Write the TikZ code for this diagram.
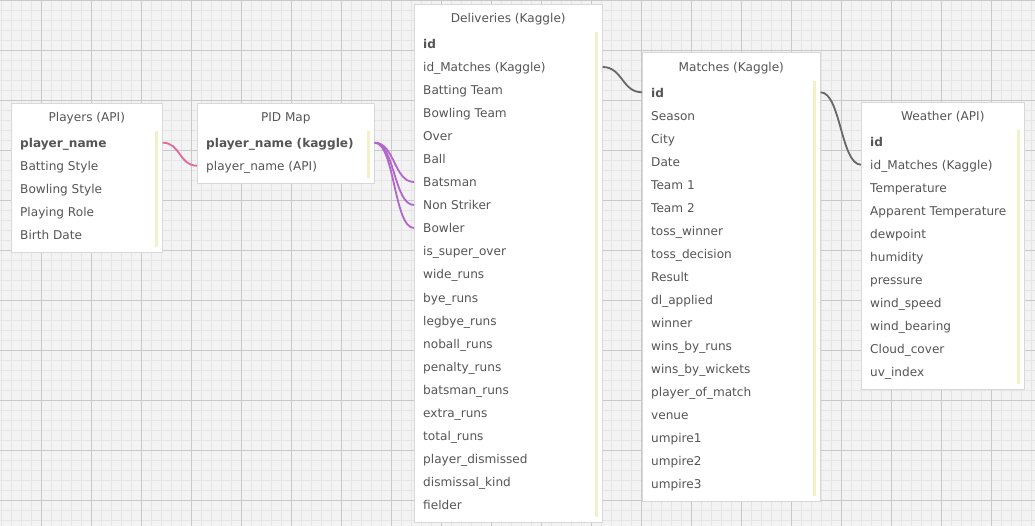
\documentclass[tikz,border=0pt]{standalone}
\usepackage{fontspec}
\setmainfont{DejaVu Sans}
\usetikzlibrary{calc}
\definecolor{bgc}{HTML}{F3F3F3}
\definecolor{minorc}{HTML}{E5E5E5}
\definecolor{majorc}{HTML}{C8C8C8}
\definecolor{txt}{HTML}{555555}
\definecolor{barc}{HTML}{F2F2C8}
\definecolor{pinkc}{HTML}{E0689A}
\definecolor{purplec}{HTML}{B265CC}
\definecolor{grayc}{HTML}{686868}
\definecolor{edgec}{HTML}{D8D8D8}
\begin{document}
\begin{tikzpicture}[x=1pt,y=-1pt,
  tbl/.style={draw=edgec, line width=0.6pt, fill=white, anchor=north west, inner sep=0pt},
  ttl/.style={font=\fontsize{12.1}{14}\selectfont, text=txt, anchor=base, inner sep=0pt},
  row/.style={font=\fontsize{12.1}{14}\selectfont, text=txt, anchor=west, inner sep=0pt, text height=10pt, text depth=0pt},
  barfill/.style={fill=barc},
  link/.style={line width=1.8pt},
]
\useasboundingbox (0,0) rectangle (1035,526);
% background grid
\fill[bgc] (0,0) rectangle (1035,526);
\foreach \i in {0,...,103} \draw[minorc, line width=0.8pt] ({1.7+10*\i},0) -- ++(0,526);
\foreach \j in {0,...,52} \draw[minorc, line width=0.8pt] (0,{0.7+10*\j}) -- ++(1035,0);
\foreach \i in {0,...,19} \draw[majorc, line width=0.9pt] ({41.7+50*\i},0) -- ++(0,526);
\foreach \j in {0,...,10} \draw[majorc, line width=0.9pt] (0,{0.7+50*\j}) -- ++(1035,0);

% Players (API)
\node[tbl, minimum width=151pt, minimum height=149.5pt] (players) at (11,102.7) {};
\node[ttl] (players-t) at ($(players.north)+(0,18.8)$) {Players (API)};
\foreach \t [count=\i] in {\textbf{player\_name}, Batting Style, Bowling Style, Playing Role, Birth Date}
  \node[row] (pl-\i) at ($(players.north west)+(9,{40+23*(\i-1)})$) {\t};
\fill[barfill] ($(players.north east)+(-8,28.5)$) rectangle ($(players.south east)+(-4.5,-5.5)$);

% PID Map
\node[tbl, minimum width=177pt, minimum height=80.5pt] (pid) at (197,102.7) {};
\node[ttl] (pid-t) at ($(pid.north)+(0,18.8)$) {PID Map};
\foreach \t [count=\i] in {\textbf{player\_name (kaggle)}, player\_name (API)}
  \node[row] (pd-\i) at ($(pid.north west)+(9,{40+23*(\i-1)})$) {\t};
\fill[barfill] ($(pid.north east)+(-8,28.5)$) rectangle ($(pid.south east)+(-4.5,-5.5)$);

% Deliveries (Kaggle)
\node[tbl, minimum width=188pt, minimum height=517.5pt] (del) at (414,4) {};
\node[ttl] (del-t) at ($(del.north)+(0,18.8)$) {Deliveries (Kaggle)};
\foreach \t [count=\i] in {\textbf{id}, id\_Matches (Kaggle), Batting Team, Bowling Team, Over, Ball, Batsman, Non Striker, Bowler, is\_super\_over, wide\_runs, bye\_runs, legbye\_runs, noball\_runs, penalty\_runs, batsman\_runs, extra\_runs, total\_runs, player\_dismissed, dismissal\_kind, fielder}
  \node[row] (dl-\i) at ($(del.north west)+(9,{40+23*(\i-1)})$) {\t};
\fill[barfill] ($(del.north east)+(-8,28.5)$) rectangle ($(del.south east)+(-4.5,-5.5)$);

% Matches (Kaggle)
\node[tbl, minimum width=178pt, minimum height=448.5pt] (mat) at (642,52.3) {};
\node[ttl] (mat-t) at ($(mat.north)+(0,18.8)$) {Matches (Kaggle)};
\foreach \t [count=\i] in {\textbf{id}, Season, City, Date, Team 1, Team 2, toss\_winner, toss\_decision, Result, dl\_applied, winner, wins\_by\_runs, wins\_by\_wickets, player\_of\_match, venue, umpire1, umpire2, umpire3}
  \node[row] (mt-\i) at ($(mat.north west)+(9,{40+23*(\i-1)})$) {\t};
\fill[barfill] ($(mat.north east)+(-8,28.5)$) rectangle ($(mat.south east)+(-4.5,-5.5)$);

% Weather (API)
\node[tbl, minimum width=163pt, minimum height=287.5pt] (wea) at (861,101.7) {};
\node[ttl] (wea-t) at ($(wea.north)+(0,18.8)$) {Weather (API)};
\foreach \t [count=\i] in {\textbf{id}, id\_Matches (Kaggle), Temperature, Apparent Temperature, dewpoint, humidity, pressure, wind\_speed, wind\_bearing, Cloud\_cover, uv\_index}
  \node[row] (we-\i) at ($(wea.north west)+(9,{40+23*(\i-1)})$) {\t};
\fill[barfill] ($(wea.north east)+(-8,28.5)$) rectangle ($(wea.south east)+(-4.5,-5.5)$);

% connectors
\draw[link, pinkc] (players.east |- pl-1) .. controls +(18,0) and +(-18,0) .. (pid.west |- pd-2);
\foreach \k in {7,8,9}
  \draw[link, purplec] (pid.east |- pd-1) .. controls +(20,0) and +(-20,0) .. (del.west |- dl-\k);
\draw[link, grayc] (del.east |- dl-2) .. controls +(20,0) and +(-20,0) .. (mat.west |- mt-1);
\draw[link, grayc] (mat.east |- mt-1) .. controls +(20,0) and +(-20,0) .. (wea.west |- we-2);
\end{tikzpicture}
\end{document}
